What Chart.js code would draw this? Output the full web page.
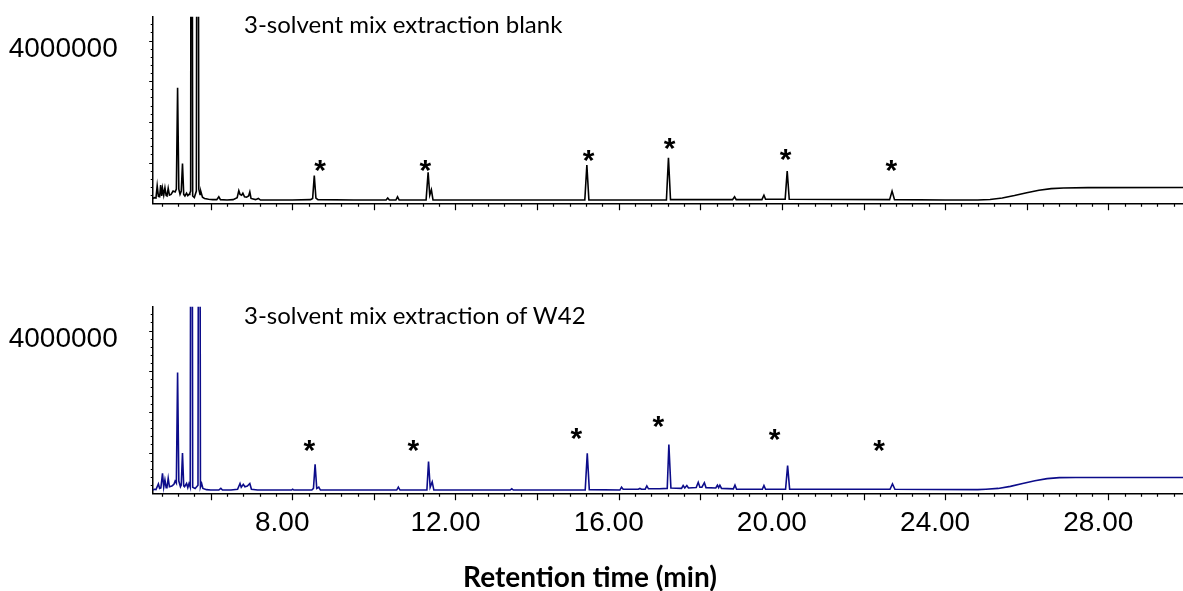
<!DOCTYPE html>
<html>
<head>
<meta charset="utf-8">
<script src="https://cdn.jsdelivr.net/npm/chart.js@4.4.1/dist/chart.umd.min.js"></script>
<style>
  body { margin: 0; background: #fff; width: 1183px; height: 591px; overflow: hidden; position: relative; }
  .panel { position: absolute; left: 0; }
  .text { position: absolute; white-space: nowrap; color: #000; font-family: Lato, "Open Sans", sans-serif; line-height: 1.2; }
</style>
</head>
<body>
<div class="panel" style="top:0"><canvas id="blankChart" width="1183" height="250"></canvas></div>
<div class="panel" style="top:250px"><canvas id="w42Chart" width="1183" height="341"></canvas></div>
<div class="text" style="left:244px; top:10px; font-size:24px;">3-solvent mix extraction blank</div>
<div class="text" style="left:244px; top:301px; font-size:24px;">3-solvent mix extraction of W42</div>
<div class="text" style="left:590px; top:560px; font-size:28px; font-weight:bold; transform:translateX(-50%);">Retention time (min)</div>
<script>
// Daten aus dem Chromatogramm (Zeit in min, Signal in Counts)
const blankZeit = [
  4.58, 4.62, 4.66, 4.69, 4.72, 4.75, 4.775, 4.80, 4.82, 4.85,
  4.88, 4.91, 4.93, 4.96, 4.99, 5.03, 5.08, 5.13, 5.16, 5.19,
  5.22, 5.25, 5.28, 5.31, 5.34, 5.37, 5.41, 5.44, 5.47, 5.49,
  5.51, 5.53, 5.56, 5.60, 5.65, 5.68, 5.71, 5.74, 5.76, 5.80,
  5.85, 5.95, 6.05, 6.15, 6.20, 6.24, 6.40, 6.55, 6.65, 6.69,
  6.72, 6.76, 6.79, 6.83, 6.88, 6.93, 6.96, 6.99, 7.10, 7.17,
  7.22, 7.50, 8.00, 8.45, 8.50, 8.54, 8.58, 8.63, 9.50, 10.30,
  10.34, 10.38, 10.54, 10.58, 10.62, 11.28, 11.33, 11.37, 11.41, 11.45,
  12.50, 14.00, 15.17, 15.22, 15.27, 17.17, 17.22, 17.27, 18.79, 18.84,
  18.88, 19.51, 19.56, 19.60, 20.08, 20.13, 20.18, 22.64, 22.70, 22.76,
  24.00, 24.80, 25.10, 25.40, 25.70, 26.00, 26.30, 26.60, 26.90, 27.50,
  29.90
];
const blankSignal = [
  120000, 140000, 130000, 430000, 170000, 160000, 450000, 180000, 370000, 200000,
  380000, 190000, 180000, 370000, 200000, 220000, 300000, 280000, 350000, 2840000,
  350000, 220000, 300000, 980000, 220000, 180000, 250000, 190000, 220000, 250000,
  300000, 20000000, 180000, 140000, 300000, 20000000, 350000, 220000, 290000, 150000,
  120000, 100000, 90000, 90000, 160000, 90000, 80000, 90000, 140000, 310000,
  220000, 200000, 250000, 160000, 150000, 180000, 280000, 120000, 90000, 120000,
  80000, 80000, 80000, 90000, 120000, 680000, 130000, 90000, 80000, 80000,
  130000, 80000, 80000, 160000, 80000, 80000, 760000, 200000, 330000, 80000,
  80000, 80000, 80000, 940000, 80000, 80000, 1120000, 90000, 90000, 160000,
  90000, 90000, 200000, 100000, 100000, 790000, 100000, 90000, 300000, 90000,
  80000, 80000, 95000, 130000, 190000, 260000, 320000, 360000, 375000, 385000,
  390000
];

const w42Zeit = [
  4.58, 4.62, 4.66, 4.72, 4.75, 4.78, 4.82, 4.85, 4.88, 4.91,
  4.93, 4.96, 4.99, 5.05, 5.10, 5.13, 5.16, 5.19, 5.22, 5.26,
  5.28, 5.31, 5.34, 5.36, 5.41, 5.44, 5.47, 5.50, 5.53, 5.56,
  5.62, 5.69, 5.72, 5.75, 5.78, 5.81, 5.90, 6.00, 6.20, 6.25,
  6.29, 6.50, 6.66, 6.72, 6.75, 6.80, 6.84, 6.90, 6.96, 7.00,
  7.15, 7.98, 8.01, 8.04, 8.48, 8.52, 8.56, 8.60, 8.65, 8.69,
  10.56, 10.60, 10.64, 11.30, 11.34, 11.38, 11.43, 11.47, 13.34, 13.38,
  13.42, 15.18, 15.23, 15.28, 16.03, 16.07, 16.11, 16.48, 16.52, 16.56,
  16.65, 16.69, 16.73, 17.00, 17.19, 17.23, 17.28, 17.54, 17.58, 17.62,
  17.67, 17.71, 17.90, 17.95, 17.99, 18.04, 18.10, 18.14, 18.38, 18.42,
  18.45, 18.48, 18.52, 18.81, 18.85, 18.89, 19.52, 19.56, 19.60, 20.09,
  20.14, 20.19, 22.65, 22.71, 22.77, 24.80, 25.00, 25.30, 25.60, 25.90,
  26.20, 26.50, 26.80, 27.20, 28.50, 29.90
];
const w42Signal = [
  80000, 100000, 90000, 230000, 120000, 130000, 490000, 150000, 330000, 140000,
  150000, 370000, 160000, 180000, 220000, 300000, 250000, 2970000, 300000, 160000,
  200000, 990000, 180000, 160000, 240000, 140000, 240000, 150000, 20000000, 150000,
  120000, 200000, 20000000, 150000, 240000, 120000, 90000, 80000, 80000, 120000,
  80000, 80000, 100000, 240000, 150000, 220000, 160000, 180000, 240000, 100000,
  80000, 80000, 100000, 80000, 80000, 120000, 710000, 120000, 150000, 80000,
  80000, 150000, 80000, 80000, 780000, 150000, 280000, 80000, 80000, 110000,
  80000, 80000, 980000, 90000, 80000, 150000, 100000, 100000, 120000, 100000,
  100000, 180000, 110000, 110000, 120000, 1200000, 130000, 120000, 190000, 130000,
  190000, 130000, 140000, 270000, 150000, 150000, 260000, 140000, 130000, 200000,
  140000, 200000, 120000, 110000, 200000, 100000, 100000, 190000, 100000, 100000,
  680000, 100000, 100000, 230000, 100000, 90000, 100000, 120000, 170000, 240000,
  310000, 360000, 385000, 390000, 390000, 390000
];

// Sternchen ueber den Standard-Peaks (Zeit, Hoehe)
const sternBlankZeit = [8.68, 11.26, 15.26, 17.25, 20.09, 22.68];
const sternBlankHoehe = [980000, 980000, 1240000, 1530000, 1250000, 980000];
const sternW42Zeit = [8.42, 10.97, 14.96, 16.97, 19.82, 22.38];
const sternW42Hoehe = [1240000, 1240000, 1530000, 1820000, 1510000, 1240000];

// Achsen
const xBeschriftung = [8, 12, 16, 20, 24, 28];
const yBeschriftung = [4000000];
const xMin = 4.58, xMax = 29.83;
const yMin = 0, yMax = 4585000;

// Striche an den Achsen (gross alle 2 min / 1 Mio, klein dazwischen)
const achsenStriche = {
  id: 'achsenStriche',
  afterDraw(chart) {
    const ctx = chart.ctx;
    const x = chart.scales.x;
    const y = chart.scales.y;
    const unten = chart.chartArea.bottom;
    const links = chart.chartArea.left;
    ctx.save();
    ctx.strokeStyle = '#000';
    ctx.lineWidth = 1.2;
    ctx.beginPath();
    for (let i = 0; i <= 80; i++) {
      const t = i * 0.4;
      if (t < x.min || t > x.max) continue;
      const px = Math.round(x.getPixelForValue(t)) + 0.5;
      const lang = (i % 5 === 0) ? 7 : 3.5;
      ctx.moveTo(px, unten);
      ctx.lineTo(px, unten + lang);
    }
    for (let i = 1; i <= 22; i++) {
      const py = Math.round(y.getPixelForValue(i * 200000)) + 0.5;
      const lang = (i % 5 === 0) ? 3.5 : 2;
      ctx.moveTo(links, py);
      ctx.lineTo(links - lang, py);
    }
    ctx.stroke();
    ctx.restore();
  }
};

// Sternchen zeichnen
const sterne = {
  id: 'sterne',
  afterDatasetsDraw(chart, args, opts) {
    const ctx = chart.ctx;
    ctx.save();
    ctx.fillStyle = '#000';
    ctx.font = 'bold 30px "Liberation Sans", Arial, sans-serif';
    ctx.textAlign = 'center';
    ctx.textBaseline = 'alphabetic';
    opts.zeiten.forEach(function(t, i) {
      const px = chart.scales.x.getPixelForValue(t);
      const py = chart.scales.y.getPixelForValue(opts.hoehen[i]);
      ctx.fillText('*', px, py + 17);
    });
    ctx.restore();
  }
};

function punkte(zeit, signal) {
  return zeit.map(function(t, i) { return { x: t, y: signal[i] }; });
}

function macheChart(id, zeit, signal, farbe, sternZeit, sternHoehe, obenPadding, xHoehe, mitLabels) {
  const ctx = document.getElementById(id).getContext('2d');
  return new Chart(ctx, {
    type: 'line',
    data: {
      datasets: [{
        data: punkte(zeit, signal),
        borderColor: farbe,
        borderWidth: 1.6,
        pointRadius: 0,
        tension: 0,
        fill: false
      }]
    },
    options: {
      responsive: false,
      animation: false,
      devicePixelRatio: 1,
      layout: { padding: { top: obenPadding, left: 0, right: 0, bottom: 0 } },
      plugins: {
        legend: { display: false },
        tooltip: { enabled: false },
        sterne: { zeiten: sternZeit, hoehen: sternHoehe }
      },
      scales: {
        x: {
          type: 'linear',
          min: xMin,
          max: xMax,
          grid: { display: false, drawTicks: false },
          border: { display: true, color: '#000', width: 1.5 },
          afterBuildTicks: function(scale) {
            scale.ticks = xBeschriftung.map(function(v) { return { value: v }; });
          },
          ticks: {
            display: mitLabels,
            autoSkip: false,
            maxRotation: 0,
            padding: 16,
            labelOffset: -10,
            color: '#000',
            font: { family: '"Liberation Sans", Arial, sans-serif', size: 28, lineHeight: 1 },
            callback: function(v) { return v.toFixed(2); }
          },
          afterFit: function(scale) {
            scale.height = xHoehe;
            scale.paddingLeft = 0;
            scale.paddingRight = 0;
          }
        },
        y: {
          min: yMin,
          max: yMax,
          grid: { display: false, drawTicks: false },
          border: { display: true, color: '#000', width: 1.5 },
          afterBuildTicks: function(scale) {
            scale.ticks = yBeschriftung.map(function(v) { return { value: v }; });
          },
          ticks: {
            padding: 35,
            labelOffset: 9,
            color: '#000',
            font: { family: '"Liberation Sans", Arial, sans-serif', size: 28, lineHeight: 1 },
            callback: function(v) { return String(v); }
          },
          afterFit: function(scale) {
            scale.width = 152.7;
            scale.paddingTop = 0;
            scale.paddingBottom = 0;
          }
        }
      }
    },
    plugins: [achsenStriche, sterne]
  });
}

macheChart('blankChart', blankZeit, blankSignal, '#000000', sternBlankZeit, sternBlankHoehe, 16.7, 46.7, false);
macheChart('w42Chart', w42Zeit, w42Signal, '#0c0c8a', sternW42Zeit, sternW42Hoehe, 56.7, 97.7, true);
</script>
</body>
</html>
